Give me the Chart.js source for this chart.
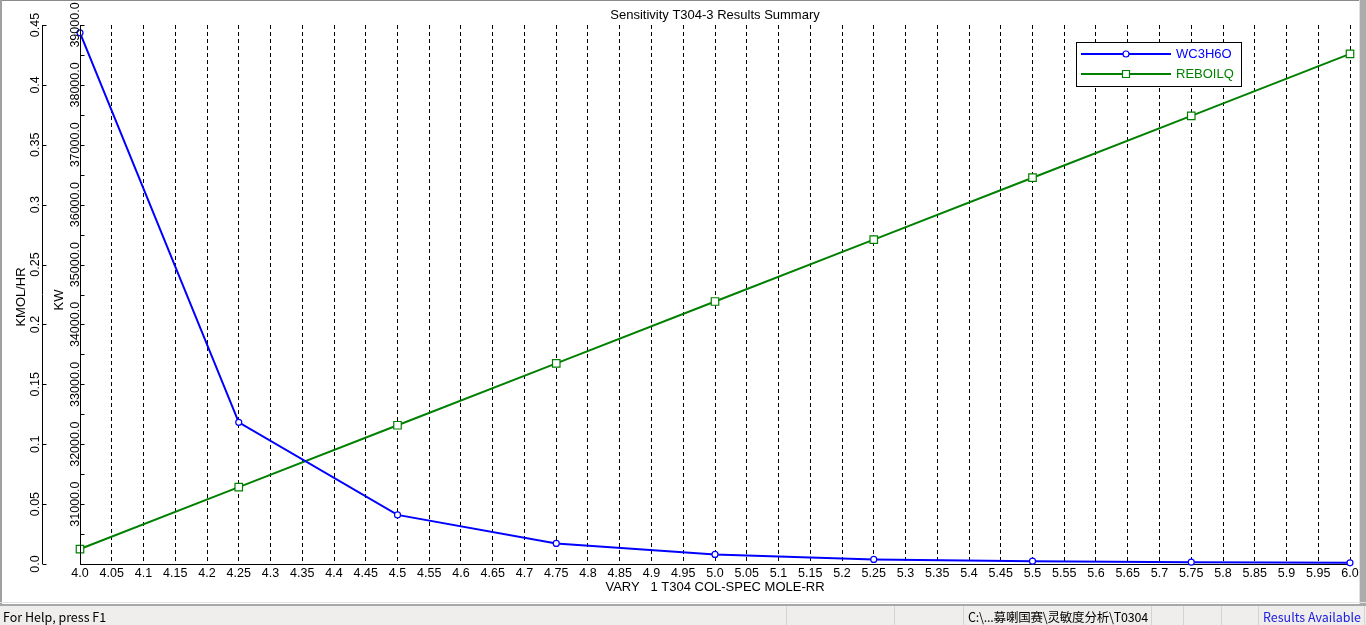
<!DOCTYPE html>
<html>
<head>
<meta charset="utf-8">
<script src="https://cdn.jsdelivr.net/npm/chart.js@4"></script>
<style>
  body { margin: 0; background: #fff; overflow: hidden; }
  #win { position: absolute; left: 0; top: 0; width: 1366px; height: 625px; }
  #plot { position: absolute; left: 0; top: 0; }
  .bl { position: absolute; left: 0; top: 0; width: 2px; height: 604px; background: #a0a0a0; }
  .bt { position: absolute; left: 0; top: 0; width: 1366px; height: 1px; background: #8a8a8a; }
  .br { position: absolute; left: 1359px; top: 0; width: 1px; height: 604px; background: #e0e0e0; }
  .br2 { position: absolute; left: 1360px; top: 0; width: 6px; height: 604px; background: #acacac; }
  .bb { position: absolute; left: 0; top: 602px; width: 1366px; height: 1px; background: #e3e3e3; }
  #status { position: absolute; left: 0; top: 604px; width: 1366px; height: 21px; background: #f0eeed;
            border-top: 2px solid #a8a8a8; box-sizing: border-box;
            font: 12.5px "Noto Sans CJK SC", "Noto Sans", sans-serif; color: #000; }
  #status span { position: absolute; top: 1px; white-space: pre; }
  #status i { position: absolute; top: 0; width: 1px; height: 19px; background: #d6d3d0; }
</style>
</head>
<body>
<div id="win">
  <canvas id="plot" width="1366" height="603"></canvas>
  <div class="bt"></div><div class="bl"></div><div class="br"></div><div class="br2"></div><div class="bb"></div>
  <div id="status">
    <span style="left:3px">For Help, press F1</span>
    <i style="left:786px"></i><i style="left:894px"></i><i style="left:963px"></i>
    <span style="left:968px;letter-spacing:-0.2px">C:\...募喇国赛\灵敏度分析\T0304</span>
    <i style="left:1151px"></i><i style="left:1183px"></i><i style="left:1221px"></i><i style="left:1258px"></i>
    <span style="left:1263px;color:#2020e0">Results Available</span>
    <i style="left:1364px"></i>
  </div>
</div>
<script>
const xValues = [4.0, 4.25, 4.5, 4.75, 5.0, 5.25, 5.5, 5.75, 6.0];
const wc3h6o = [0.4435, 0.1183, 0.0410, 0.0172, 0.0080, 0.0038, 0.0024, 0.0015, 0.0010];
const reboilq = [30250, 31283, 32317, 33350, 34383, 35417, 36450, 37483, 38517];

const xTickLabels = ['4.0', '4.05', '4.1', '4.15', '4.2', '4.25', '4.3', '4.35', '4.4', '4.45',
  '4.5', '4.55', '4.6', '4.65', '4.7', '4.75', '4.8', '4.85', '4.9', '4.95',
  '5.0', '5.05', '5.1', '5.15', '5.2', '5.25', '5.3', '5.35', '5.4', '5.45',
  '5.5', '5.55', '5.6', '5.65', '5.7', '5.75', '5.8', '5.85', '5.9', '5.95', '6.0'];
const kmolTicks = [0, 0.05, 0.1, 0.15, 0.2, 0.25, 0.3, 0.35, 0.4, 0.45];
const kmolLabels = ['0.0', '0.05', '0.1', '0.15', '0.2', '0.25', '0.3', '0.35', '0.4', '0.45'];
const kwTicks = [31000, 32000, 33000, 34000, 35000, 36000, 37000, 38000, 39000];
const kwLabels = ['31000.0', '32000.0', '33000.0', '34000.0', '35000.0', '36000.0', '37000.0', '38000.0', '39000.0'];

const FAMILY = 'Arial, "Liberation Sans", sans-serif';
const TICK_FONT = '12.5px ' + FAMILY;
const TEXT_FONT = '13px ' + FAMILY;
const BLUE = '#0000ff';
const GREEN = '#008000';

function vText(ctx, txt, x, y) {
  ctx.save();
  ctx.translate(x, y);
  ctx.rotate(-Math.PI / 2);
  ctx.textAlign = 'center';
  ctx.textBaseline = 'alphabetic';
  ctx.fillText(txt, 0, 0);
  ctx.restore();
}

const decor = {
  id: 'decor',
  afterDraw(chart) {
    const ctx = chart.ctx;
    const area = chart.chartArea;
    const yK = chart.scales.yK;
    const yW = chart.scales.yW;
    ctx.save();
    ctx.fillStyle = '#000';
    ctx.strokeStyle = '#000';
    ctx.lineWidth = 1;

    // title + x title
    ctx.font = TEXT_FONT;
    ctx.textAlign = 'center';
    ctx.textBaseline = 'middle';
    ctx.fillText('Sensitivity T304-3 Results Summary', 715, 15);
    ctx.fillText('VARY   1 T304 COL-SPEC MOLE-RR', 715, 587);

    // outer axis (KMOL/HR)
    const ox = area.left - 38 + 0.5;
    ctx.beginPath();
    ctx.moveTo(ox, yK.getPixelForValue(0.45));
    ctx.lineTo(ox, yK.getPixelForValue(0));
    kmolTicks.forEach(v => {
      const y = Math.round(yK.getPixelForValue(v)) + 0.5;
      ctx.moveTo(ox, y); ctx.lineTo(ox + 4, y);
    });
    ctx.stroke();
    ctx.font = TICK_FONT;
    kmolTicks.forEach((v, i) => vText(ctx, kmolLabels[i], ox - 4, yK.getPixelForValue(v)));
    ctx.font = TEXT_FONT;
    vText(ctx, 'KMOL/HR', 25, 297);

    // inner axis (KW)
    const ix = area.left + 0.5;
    ctx.beginPath();
    ctx.moveTo(ix, yW.getPixelForValue(39000));
    ctx.lineTo(ix, yW.getPixelForValue(30000));
    for (let v = 30000; v <= 39000; v += 500) {
      const y = Math.round(yW.getPixelForValue(v)) + 0.5;
      ctx.moveTo(ix, y); ctx.lineTo(ix + 4, y);
    }
    ctx.stroke();
    ctx.font = TICK_FONT;
    kwTicks.forEach((v, i) => vText(ctx, kwLabels[i], ix - 1.5, yW.getPixelForValue(v)));
    ctx.font = TEXT_FONT;
    vText(ctx, 'KW', 63, 300);

    // legend
    ctx.fillStyle = '#fff';
    ctx.fillRect(1076, 42, 165, 44);
    ctx.strokeRect(1076.5, 42.5, 165, 44);
    const rows = [
      { y: 54, c: BLUE, t: 'WC3H6O', m: 'circle' },
      { y: 74, c: GREEN, t: 'REBOILQ', m: 'rect' }
    ];
    rows.forEach(r => {
      ctx.strokeStyle = r.c;
      ctx.lineWidth = 2;
      ctx.beginPath();
      ctx.moveTo(1081, r.y); ctx.lineTo(1171, r.y);
      ctx.stroke();
      ctx.fillStyle = '#fff';
      ctx.lineWidth = 1.2;
      ctx.beginPath();
      if (r.m === 'circle') ctx.arc(1126, r.y, 3, 0, Math.PI * 2);
      else ctx.rect(1122.5, r.y - 3.5, 7, 7);
      ctx.fill(); ctx.stroke();
      ctx.fillStyle = r.c;
      ctx.textAlign = 'left';
      ctx.textBaseline = 'middle';
      ctx.fillText(r.t, 1176, r.y);
    });
    ctx.restore();
  }
};

const hiddenAxis = w => ({
  type: 'linear',
  position: 'left',
  ticks: { display: false },
  grid: { display: false },
  border: { display: false },
  afterFit: s => { s.width = w; }
});

new Chart(document.getElementById('plot'), {
  type: 'line',
  data: {
    datasets: [
      {
        label: 'WC3H6O',
        yAxisID: 'yK',
        data: xValues.map((x, i) => ({ x: x, y: wc3h6o[i] })),
        borderColor: BLUE,
        borderWidth: 2,
        pointStyle: 'circle',
        pointRadius: 3,
        pointBorderWidth: 1.2,
        pointBackgroundColor: '#fff',
        pointBorderColor: BLUE,
        tension: 0,
        clip: false
      },
      {
        label: 'REBOILQ',
        yAxisID: 'yW',
        data: xValues.map((x, i) => ({ x: x, y: reboilq[i] })),
        borderColor: GREEN,
        borderWidth: 2,
        pointStyle: 'rect',
        pointRadius: 5.3,
        pointBorderWidth: 1.2,
        pointBackgroundColor: '#fff',
        pointBorderColor: GREEN,
        tension: 0,
        clip: false
      }
    ]
  },
  options: {
    responsive: false,
    animation: false,
    devicePixelRatio: 1,
    layout: { padding: { left: 0, top: 25, right: 16, bottom: 0 } },
    plugins: { legend: { display: false }, tooltip: { enabled: false }, title: { display: false } },
    scales: {
      x: {
        type: 'linear',
        min: 4.0,
        max: 6.0,
        ticks: {
          stepSize: 0.05,
          autoSkip: false,
          maxRotation: 0,
          minRotation: 0,
          padding: 2,
          color: '#000',
          font: { family: FAMILY, size: 12.5 },
          callback: (v, i) => xTickLabels[i]
        },
        grid: { color: '#000', lineWidth: 1, drawTicks: false, borderDash: [4, 3] },
        border: { display: true, color: '#000', width: 1, dash: [4, 3] },
        afterFit: s => { s.height = 39; }
      },
      yK: Object.assign(hiddenAxis(42), { min: 0, max: 0.45, weight: 1 }),
      yW: Object.assign(hiddenAxis(38), { min: 30000, max: 39000, weight: 0 })
    }
  },
  plugins: [decor]
});
</script>
</body>
</html>
